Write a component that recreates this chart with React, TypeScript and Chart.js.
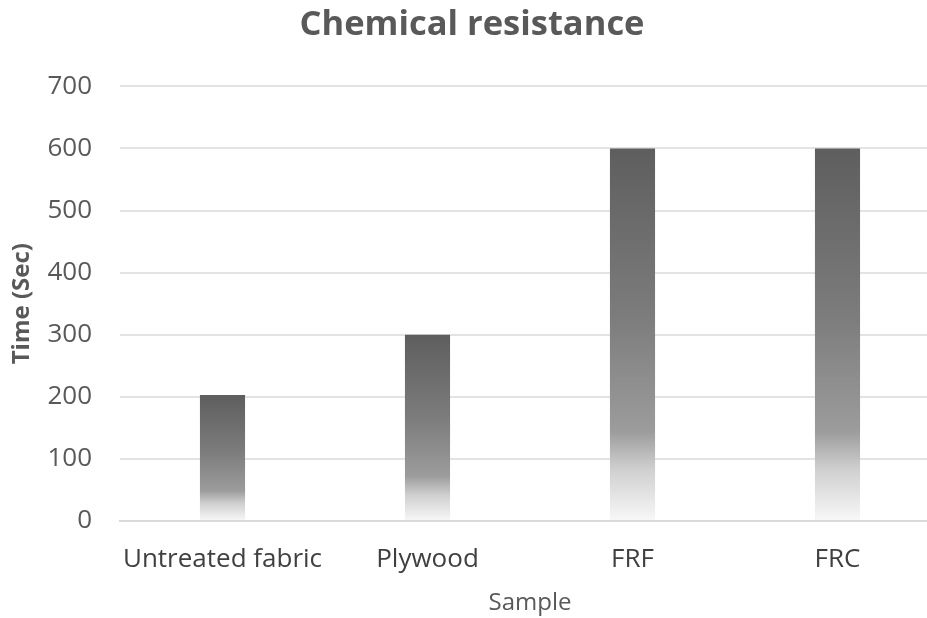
import React, { useEffect, useRef } from "react";
import { Chart, registerables } from "chart.js";

Chart.register(...registerables);

const categories = ["Untreated fabric", "Plywood", "FRF", "FRC"];
const timeValues = [203, 300, 600, 600];
const yMin = 0;
const yMax = 700;
const yStep = 100;

const FONT = "'Open Sans', sans-serif";
const TEXT = "#595959";

export default function App() {
  const ref = useRef<HTMLCanvasElement | null>(null);
  useEffect(() => {
    if (!ref.current) return;
    const chart = new Chart(ref.current, {
      type: "bar",
      data: {
        labels: categories,
        datasets: [
          {
            label: "Time (Sec)",
            data: timeValues,
            categoryPercentage: 1,
            barPercentage: 0.22,
            borderWidth: 0,
            backgroundColor: (ctx: any) => {
              const c = ctx.chart;
              const area = c.chartArea;
              if (!area || ctx.dataIndex === undefined) return "#7f7f7f";
              const ys = c.scales.y;
              const top = ys.getPixelForValue(ctx.raw);
              const bottom = ys.getPixelForValue(0);
              if (!isFinite(top) || !isFinite(bottom) || top === bottom) return "#7f7f7f";
              const g = c.ctx.createLinearGradient(0, top, 0, bottom);
              g.addColorStop(0, "#5e5e5e");
              g.addColorStop(0.45, "#7c7c7c");
              g.addColorStop(0.76, "#9c9c9c");
              g.addColorStop(0.86, "#cfcfcf");
              g.addColorStop(1, "#f8f8f8");
              return g;
            },
          },
        ],
      },
      options: {
        animation: false,
        responsive: true,
        maintainAspectRatio: false,
        layout: { padding: { left: 4, right: 0, top: 4, bottom: 0 } },
        plugins: {
          legend: { display: false },
          tooltip: { enabled: false },
          title: {
            display: true,
            text: "Chemical resistance",
            color: TEXT,
            font: { family: FONT, size: 34.5, weight: "bold" },
            padding: { top: 0, bottom: 41 },
          },
        },
        scales: {
          x: {
            grid: { display: false, drawTicks: false },
            border: { display: true, color: "#d9d9d9", width: 2 },
            ticks: {
              color: "#404040",
              font: { family: FONT, size: 26 },
              padding: 23,
              maxRotation: 0,
              minRotation: 0,
              autoSkip: false,
            },
            title: {
              display: true,
              text: "Sample",
              color: TEXT,
              font: { family: FONT, size: 24 },
              padding: { top: 14, bottom: 0 },
            },
            afterFit: (scale: any) => {
              scale.paddingLeft = 0;
              scale.paddingRight = 0;
              scale.height = 97;
            },
          },
          y: {
            min: yMin,
            max: yMax,
            grid: { color: "#e3e3e3", lineWidth: 2, drawTicks: false },
            border: { display: false },
            ticks: {
              stepSize: yStep,
              color: TEXT,
              font: { family: FONT, size: 26 },
              padding: 28,
            },
            title: {
              display: true,
              text: "Time (Sec)",
              color: TEXT,
              font: { family: FONT, size: 24, weight: "bold" },
              padding: { top: 4, bottom: 10 },
            },
            afterFit: (scale: any) => {
              scale.width = 116;
            },
          },
        },
      },
    });
    return () => chart.destroy();
  }, []);
  return (
    <div style={{ position: "fixed", left: 0, top: 0, width: 940, height: 618, background: "#fff" }}>
      <canvas ref={ref} />
    </div>
  );
}
